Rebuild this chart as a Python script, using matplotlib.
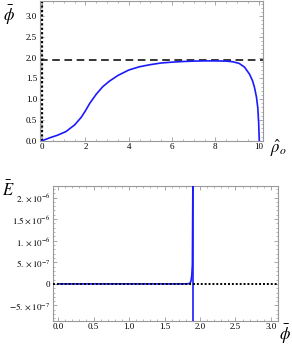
import numpy as np
import matplotlib.pyplot as plt
from matplotlib.ticker import MultipleLocator, FixedLocator

plt.rcParams['font.family'] = ['Liberation Serif', 'DejaVu Serif']
plt.rcParams['mathtext.fontset'] = 'stix'

# top panel: phi_bar vs rho_hat_o
rho = [0.0, 0.35, 0.7, 1.1, 1.5, 1.8, 2.0, 2.2, 2.5, 2.8, 3.1, 3.5, 4.0, 4.5, 5.0,
       5.5, 6.0, 6.5, 7.0, 7.5, 8.0, 8.5, 8.8, 9.1, 9.35, 9.58, 9.72, 9.81, 9.9,
       9.96, 10.0, 10.03]
phi = [0.0, 0.07, 0.13, 0.22, 0.38, 0.56, 0.72, 0.9, 1.12, 1.3, 1.43, 1.57, 1.7, 1.78, 1.83,
       1.87, 1.89, 1.905, 1.915, 1.92, 1.92, 1.915, 1.9, 1.86, 1.77, 1.6, 1.44, 1.28, 1.05,
       0.8, 0.45, 0.0]
phi_star = 1.93

# bottom panel: E_bar vs phi_bar
phi_b = [0.0, 0.5, 1.0, 1.5, 1.7, 1.76, 1.8, 1.83, 1.85, 1.865, 1.875, 1.885, 1.893, 1.9]
E_b = [0.0, 0.0, 0.0, 0.0, 0.0, 0.002e-7, 0.01e-7, 0.03e-7, 0.1e-7, 0.3e-7, 0.8e-7,
       2.0e-7, 4.5e-7, 2.3e-6]
yticks_b = [-5e-7, 0, 5e-7, 1e-6, 1.5e-6, 2e-6]
yticklabels_b = [r'$-5.\times10^{-7}$', '0', r'$5.\times10^{-7}$', r'$1.\times10^{-6}$',
                 r'$1.5\times10^{-6}$', r'$2.\times10^{-6}$']

fig = plt.figure(figsize=(2.92, 3.5), dpi=100)
ax1 = fig.add_axes([0.137, 0.598, 0.765, 0.399])
ax2 = fig.add_axes([0.182, 0.084, 0.770, 0.385])

for ax in (ax1, ax2):
    for s in ax.spines.values():
        s.set_color('#999999')
        s.set_linewidth(0.8)
    ax.tick_params(which='both', direction='in', top=True, right=True,
                   color='#999999', labelsize=6.5, pad=2)
    ax.tick_params(which='major', length=3, width=0.6)
    ax.tick_params(which='minor', length=1.5, width=0.5)

ax1.plot(rho, phi, color='#1a1aff', lw=1.2, zorder=3)
ax1.axhline(phi_star, color='black', lw=1.1, ls=(0, (5, 3)), zorder=2)
ax1.axvline(0, color='black', lw=1.6, ls=(0, (1, 1)), zorder=2)
ax1.set_xlim(-0.1, 10.22)
ax1.set_ylim(0, 3.36)
ax1.xaxis.set_major_locator(MultipleLocator(2))
ax1.xaxis.set_minor_locator(MultipleLocator(0.5))
ax1.yaxis.set_major_locator(MultipleLocator(0.5))
ax1.yaxis.set_minor_locator(MultipleLocator(0.1))
ax1.xaxis.set_major_formatter(plt.FuncFormatter(lambda v, p: '%d' % round(v)))
ax1.yaxis.set_major_formatter(plt.FuncFormatter(lambda v, p: '%.1f' % v))
fig.text(0.03, 0.955, r'$\bar{\phi}$', fontsize=12, ha='center', va='center')
fig.text(0.955, 0.575, r'$\hat{\rho}_o$', fontsize=12, ha='center', va='center')

ax2.plot(phi_b, E_b, color='#1a1aff', lw=1.2, zorder=3)
ax2.axvline(phi_b[-1], color='#1a1aff', lw=1.2, zorder=3)
ax2.axhline(0, color='black', lw=1.4, ls=(0, (1, 1)), zorder=4)
ax2.set_xlim(-0.07, 3.1)
ax2.set_ylim(-8.5e-7, 2.27e-6)
ax2.xaxis.set_major_locator(MultipleLocator(0.5))
ax2.xaxis.set_minor_locator(MultipleLocator(0.1))
ax2.xaxis.set_major_formatter(plt.FuncFormatter(lambda v, p: '%.1f' % v))
ax2.yaxis.set_major_locator(FixedLocator(yticks_b))
ax2.set_yticklabels(yticklabels_b)
ax2.yaxis.set_minor_locator(MultipleLocator(1e-7))
fig.text(0.03, 0.455, r'$\bar{E}$', fontsize=12, ha='center', va='center')
fig.text(0.975, 0.045, r'$\bar{\phi}$', fontsize=12, ha='center', va='center')

fig.savefig('out.png', dpi=100)
